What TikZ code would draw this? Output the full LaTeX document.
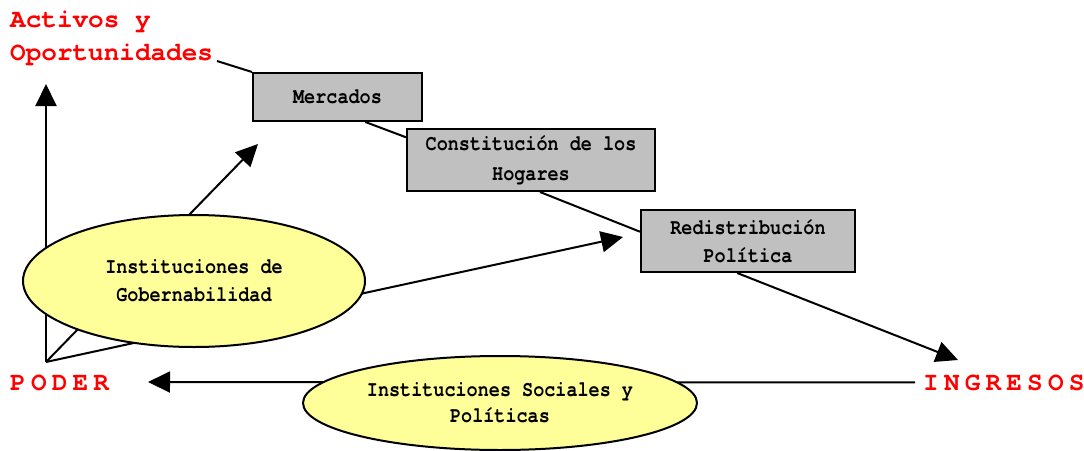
\documentclass[tikz,border=0pt]{standalone}
\usepackage{fontspec}
\usetikzlibrary{arrows.meta,shapes.geometric,calc}
\newfontfamily\blkfont[FakeStretch=0.84]{TeX Gyre Cursor}
\newfontfamily\redfont{TeX Gyre Cursor}
\newfontfamily\redspfont[LetterSpace=20]{TeX Gyre Cursor}
\definecolor{boxgray}{HTML}{C0C0C0}
\definecolor{ellyellow}{HTML}{FFFF99}
\definecolor{lblred}{HTML}{FF0000}
\tikzset{
  conn/.style={line width=2pt, draw=black},
  arr/.style={conn, -{Triangle[length=22pt,width=21pt]}},
  txtfont/.style={font=\blkfont\bfseries\fontsize{22}{28}\selectfont},
  box/.style={draw, line width=2pt, fill=boxgray, inner sep=0pt, align=center, txtfont},
  ell/.style={ellipse, draw, line width=2pt, fill=ellyellow, inner sep=0pt, align=center, txtfont},
  redlbl/.style={text=lblred, inner sep=0pt, font=\redfont\bfseries\fontsize{26}{32}\selectfont},
  redsplbl/.style={text=lblred, inner sep=0pt, font=\redspfont\bfseries\fontsize{26}{32}\selectfont},
}
\begin{document}
\begin{tikzpicture}[x=1pt,y=-1pt]
\useasboundingbox (0,0) rectangle (1084,450);

% labels
\node[redlbl, anchor=base west] (act) at (10,27) {Activos y};
\node[redlbl, anchor=base west] (opo) at (10,60) {Oportunidades};
\node[redsplbl, anchor=base west] (pod) at (10,390) {PODER};
\node[redsplbl, anchor=base west] (ing) at (923,390) {INGRESOS};

% boxes
\node[box, minimum width=169pt, minimum height=48pt] (merc) at (337.5,97) {Mercados};
\node[box, minimum width=248pt, minimum height=62pt] (cons) at (531,160) {Constitución de los\\[2pt]Hogares};
\node[box, minimum width=214pt, minimum height=62pt] (redi) at (748,241) {Redistribución\\Política};

% coordinates
\coordinate (c1) at (217,61);
\coordinate (O) at (46,362);
\coordinate (tA) at (46,84);
\coordinate (tM) at (258,144);
\coordinate (tR) at (623,237);
\coordinate (tI) at (958,360);
\coordinate (tP) at (148,382);

% connectors
\draw[conn] (c1) -- (merc.north west);
\draw[conn] ($(merc.south west)!0.663!(merc.south east)$) -- ($(cons.north west)!0.145!(cons.south west)$);
\draw[conn] ($(cons.south west)!0.536!(cons.south east)$) -- ($(redi.north west)!0.355!(redi.south west)$);
\draw[arr] ($(redi.south west)!0.45!(redi.south east)$) -- (tI);
\draw[arr] (O) -- (tA);
\draw[arr] (O) -- (tM);
\draw[arr] (O) -- (tR);
\draw[arr] ([xshift=-8pt]ing.west) -- (tP);

% ellipses on top
\node[ell, minimum width=342pt, minimum height=132pt] (gob) at (194,281) {Instituciones de\\Gobernabilidad};
\node[ell, minimum width=394pt, minimum height=94pt] (soc) at (500,403) {Instituciones Sociales y\\[-2pt]Políticas};
\end{tikzpicture}
\end{document}
